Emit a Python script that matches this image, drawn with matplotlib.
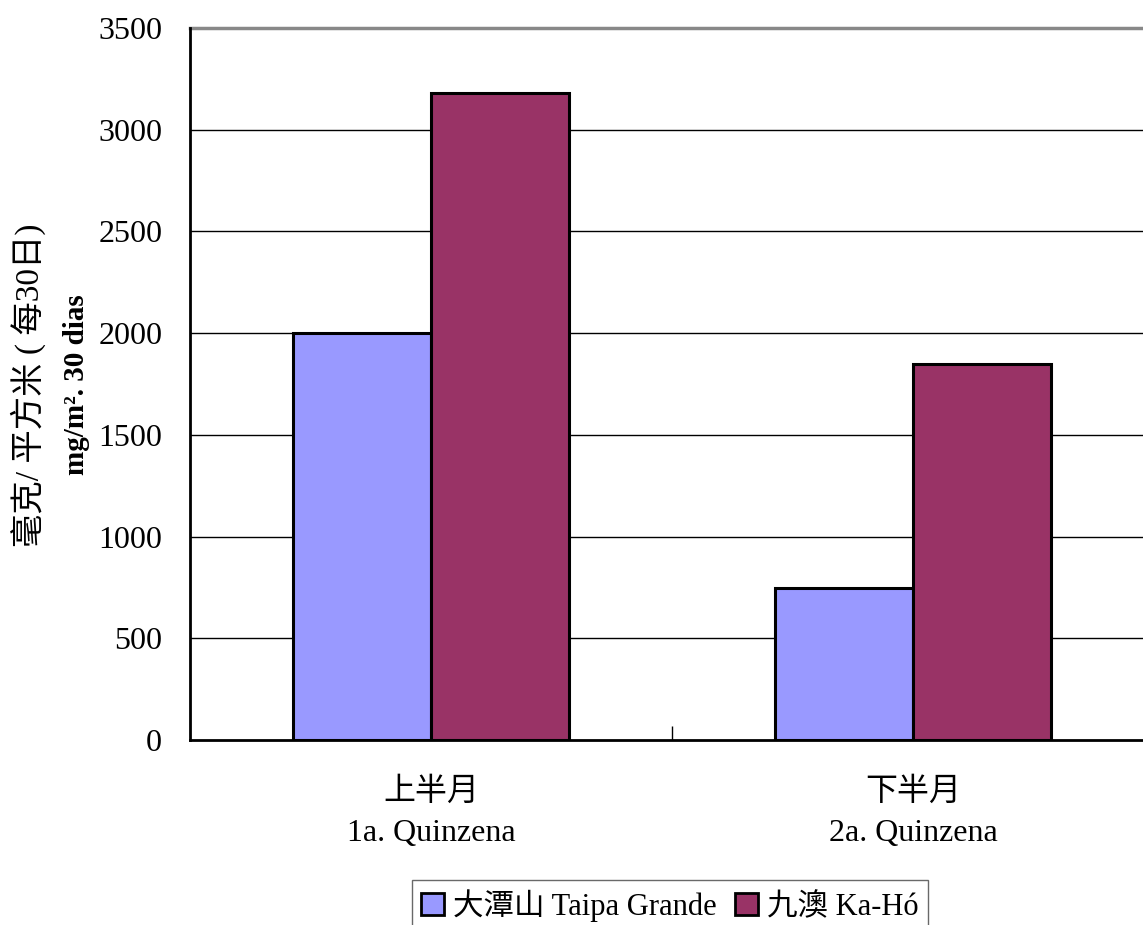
import matplotlib
matplotlib.use("Agg")
import matplotlib.pyplot as plt
import numpy as np
from matplotlib.patches import Patch

plt.rcParams['font.family'] = ['Liberation Serif', 'Noto Sans CJK TC']

categories = ["上半月\n1a. Quinzena", "下半月\n2a. Quinzena"]
series_names = ["大潭山 Taipa Grande", "九澳 Ka-Hó"]
taipa_grande = [2000, 745]
ka_ho = [3180, 1848]
colors = ["#9999FF", "#993366"]
y_ticks = [0, 500, 1000, 1500, 2000, 2500, 3000, 3500]

fig = plt.figure(figsize=(11.43, 9.25), dpi=100)
ax = fig.add_axes([0.1662, 0.2, 0.8434, 0.7697])

x = np.arange(len(categories))
w = 0.286
for offset, vals, c in ((-w / 2, taipa_grande, colors[0]), (w / 2, ka_ho, colors[1])):
    ax.bar(x + offset, vals, width=w, color=c, edgecolor="black", linewidth=2.2, zorder=3)

ax.set_xlim(-0.5, 1.5)
ax.set_ylim(0, 3500)
ax.set_yticks(y_ticks)
ax.set_yticklabels([str(t) for t in y_ticks], fontsize=23)
ax.tick_params(axis='y', length=0, pad=20)

ax.set_xticks(x)
ax.set_xticklabels(categories, fontsize=23, linespacing=1.55)
ax.tick_params(axis='x', which='major', length=0, pad=27)
ax.set_xticks([0.5], minor=True)
ax.tick_params(axis='x', which='minor', direction='in', length=10, width=1, color='black')

for t in y_ticks[1:-1]:
    ax.axhline(t, color='black', linewidth=1, zorder=1)
ax.axhline(3500, color='#888888', linewidth=2.5, zorder=1, clip_on=False)

for side in ('top', 'right'):
    ax.spines[side].set_visible(False)
ax.spines['left'].set_linewidth(2)
ax.spines['bottom'].set_linewidth(2)

fig.text(28 / 1143, 1 - 385 / 925, "毫克/ 平方米 ( 每30日)", rotation=90,
         ha='center', va='center', fontsize=24)
fig.text(76 / 1143, 1 - 385 / 925, "mg/m². 30 dias", rotation=90,
         ha='center', va='center', fontsize=21, fontweight='bold')

handles = [Patch(facecolor=colors[0], edgecolor='black', linewidth=2),
           Patch(facecolor=colors[1], edgecolor='black', linewidth=2)]
leg = fig.legend(handles, series_names, loc='upper left',
                 bbox_to_anchor=(412 / 1143, 1 - 880 / 925), ncol=2,
                 fontsize=22, frameon=True, fancybox=False,
                 handlelength=0.75, handleheight=0.75, handletextpad=0.3,
                 columnspacing=0.6, borderpad=0.3, borderaxespad=0)
leg.get_frame().set_edgecolor('#444444')
leg.get_frame().set_linewidth(1)

fig.savefig("out.png", dpi=100)
